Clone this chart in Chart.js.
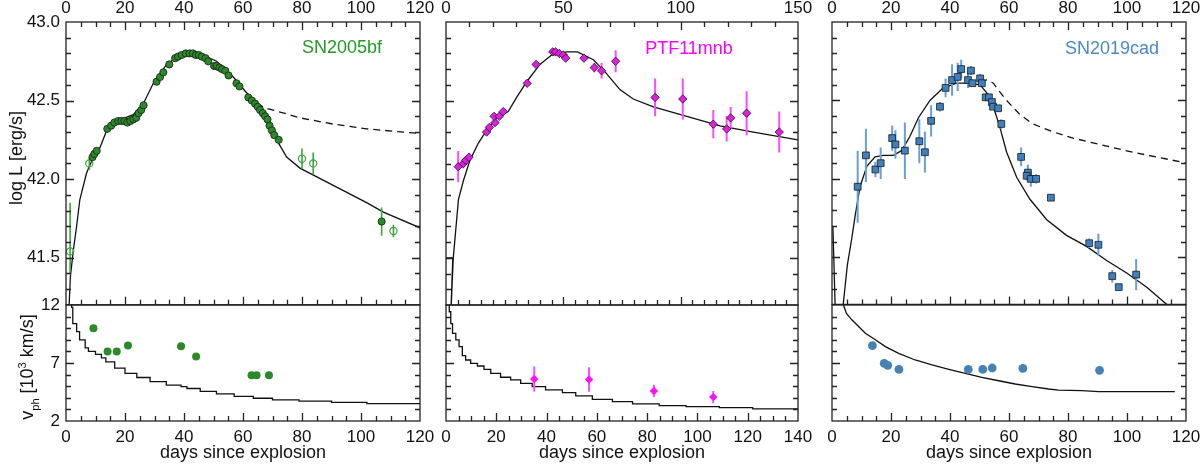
<!DOCTYPE html>
<html>
<head>
<meta charset="utf-8">
<script src="https://cdn.jsdelivr.net/npm/chart.js@4.4.1/dist/chart.umd.min.js"></script>
<style>
html, body { margin: 0; padding: 0; background: #fff; }
#wrap { position: relative; width: 1200px; height: 466px; overflow: hidden; }
canvas { position: absolute; }
</style>
</head>
<body>
<div id="wrap">
  <canvas id="t1" width="440" height="310" style="left:0px;top:0px"></canvas>
  <canvas id="t2" width="392" height="310" style="left:426px;top:0px"></canvas>
  <canvas id="t3" width="394" height="310" style="left:812px;top:0px"></canvas>
  <canvas id="b1" width="440" height="186" style="left:0px;top:280px"></canvas>
  <canvas id="b2" width="392" height="186" style="left:426px;top:280px"></canvas>
  <canvas id="b3" width="394" height="186" style="left:812px;top:280px"></canvas>
</div>
<script>
// ---------- tick labels
const ticksX120 = [0, 20, 40, 60, 80, 100, 120];
const ticksX150 = [0, 50, 100, 150];
const ticksX140 = [0, 20, 40, 60, 80, 100, 120, 140];
const ticksLogL = [41.5, 42.0, 42.5, 43.0];
const ticksVel = [2, 7, 12];

// ---------- SN2005bf  [day, logL, err]
const sn05_full = [
  [9.0, 42.14], [9.6, 42.16], [10.4, 42.18], [14.0, 42.32], [15.3, 42.34], [16.4, 42.36],
  [17.7, 42.37], [18.8, 42.37], [19.8, 42.37], [20.8, 42.36], [21.8, 42.37], [22.8, 42.38],
  [23.8, 42.39], [24.6, 42.42], [25.5, 42.44], [26.3, 42.47], [30.7, 42.62], [31.9, 42.65],
  [33.0, 42.68], [35.0, 42.73], [37.0, 42.77], [38.0, 42.78], [39.2, 42.79], [40.6, 42.80],
  [41.9, 42.80], [43.0, 42.80], [44.0, 42.79], [45.0, 42.79], [46.0, 42.78], [47.3, 42.77],
  [48.2, 42.75], [50.2, 42.72], [51.0, 42.72], [52.0, 42.71], [52.9, 42.70], [54.0, 42.69],
  [55.1, 42.66], [57.8, 42.61], [58.8, 42.59], [61.8, 42.52], [63.0, 42.50], [64.1, 42.48],
  [65.0, 42.46], [65.8, 42.44], [66.7, 42.42], [67.5, 42.40], [68.3, 42.38], [69.0, 42.34],
  [69.8, 42.31], [70.6, 42.28], [72.1, 42.25], [107.0, 41.73, 0.09]
];
// [day, logL, errLow, errHigh]
const sn05_open = [[1.4, 41.54, 0.15, 0.31], [7.9, 42.10, 0.04], [80.0, 42.13, 0.065], [83.8, 42.10, 0.07], [111.0, 41.67, 0.04]];
const sn05_model = [
  [0.7, 41.05], [1.5, 41.38], [2.5, 41.55], [3.6, 41.70], [4.7, 41.87], [7.0, 42.04], [9.3, 42.14],
  [11.5, 42.20], [13.8, 42.31], [16.6, 42.37], [20.0, 42.39], [22.8, 42.41], [26.2, 42.48],
  [29.6, 42.61], [34.1, 42.73], [38.6, 42.79], [42.0, 42.81], [46.5, 42.79], [51.0, 42.75],
  [56.7, 42.65], [61.2, 42.55], [64.6, 42.48], [68.0, 42.38], [71.4, 42.25], [74.8, 42.14],
  [79.3, 42.07], [90.6, 41.96], [101.9, 41.85], [107.6, 41.79], [120.0, 41.69]
];
const sn05_dash = [[64.6, 42.48], [68.0, 42.45], [72.0, 42.43], [79.3, 42.39], [90.6, 42.35], [101.9, 42.32], [120.0, 42.29]];
const sn05_vel = [[9.3, 10.0], [14.1, 8.0], [17.2, 8.0], [21.0, 8.5], [39.0, 8.45], [44.1, 7.55], [62.9, 5.95], [64.6, 5.95], [68.8, 5.95]];
const sn05_vModel = [
  [1.9, 13.5], [2.3, 11.8], [3.6, 10.4], [4.6, 9.7], [6.5, 9.0], [7.6, 8.3], [10.0, 8.0], [12.0, 7.75],
  [13.5, 7.45], [16.5, 7.1], [20.0, 6.55], [24.0, 6.1], [28.5, 5.75], [34.0, 5.4], [39.0, 5.1],
  [41.0, 4.96], [45.5, 4.8], [51.0, 4.55], [57.0, 4.33], [63.5, 4.12], [70.0, 3.96], [79.0, 3.82],
  [90.0, 3.72], [102.0, 3.61], [120.0, 3.5]
];

// ---------- PTF11mnb
const ptf_L = [
  [5.2, 42.08, 0.1], [7.4, 42.10, 0.03], [8.4, 42.12], [9.8, 42.14], [17.3, 42.30], [18.5, 42.33],
  [20.9, 42.36], [20.5, 42.40], [22.7, 42.40], [24.4, 42.43], [34.6, 42.61], [38.4, 42.73],
  [45.5, 42.81], [46.7, 42.81], [48.3, 42.80], [50.0, 42.79], [51.0, 42.77], [58.8, 42.77],
  [63.2, 42.71, 0.03], [66.3, 42.69, 0.05], [72.3, 42.75, 0.07], [89.1, 42.52, 0.12],
  [100.9, 42.51, 0.13], [113.9, 42.35, 0.09], [119.6, 42.32, 0.08], [121.3, 42.39, 0.07],
  [128.1, 42.42, 0.14], [142.0, 42.30, 0.13]
];
const ptf_model = [
  [0, 41.5], [2.9, 41.5], [2.0, 41.12], [3.1, 41.5], [5.3, 41.87], [7.4, 41.99], [10.2, 42.12],
  [13.8, 42.23], [17.3, 42.31], [21.6, 42.39], [26.5, 42.43], [30.1, 42.52], [34.4, 42.62],
  [40.0, 42.73], [45.0, 42.79], [51.4, 42.81], [56.0, 42.81], [62.8, 42.76], [68.5, 42.67],
  [74.1, 42.57], [79.8, 42.51], [88.4, 42.46], [102.6, 42.40], [116.8, 42.34], [131.0, 42.30], [150.0, 42.25]
];
const ptf_vel = [[35.1, 5.62, 1.07], [56.9, 5.58, 1.05], [82.7, 4.59, 0.53], [106.3, 4.06, 0.53]];
const ptf_vModel = [
  [1.3, 12.5], [1.9, 11.42], [2.6, 10.4], [3.9, 9.56], [5.2, 9.0], [6.5, 8.41], [7.8, 7.63],
  [9.8, 7.26], [12.5, 6.97], [15.1, 6.74], [17.8, 6.45], [21.7, 6.1], [25.7, 5.77], [29.7, 5.54],
  [34.3, 5.25], [39.6, 4.96], [46.3, 4.68], [51.6, 4.45], [58.2, 4.16], [66.2, 3.87], [74.2, 3.67],
  [84.8, 3.47], [95.5, 3.33], [108.7, 3.24], [122.0, 3.16], [140.0, 3.04]
];

// ---------- SN2019cad
const sn19_L = [
  [8.7, 41.95, 0.23], [11.5, 42.15, 0.17], [14.7, 42.06, 0.05], [16.5, 42.10, 0.1], [20.4, 42.26, 0.08],
  [21.5, 42.22, 0.09], [24.7, 42.18, 0.18], [29.6, 42.24, 0.14], [31.5, 42.17, 0.13], [33.6, 42.37, 0.1],
  [36.6, 42.46, 0.03], [38.5, 42.58, 0.06], [40.7, 42.63, 0.1], [42.6, 42.65, 0.09], [43.8, 42.70, 0.06],
  [46.1, 42.63, 0.05], [47.1, 42.69, 0.03], [47.6, 42.61, 0.02], [50.2, 42.64, 0.03], [50.8, 42.61, 0.02],
  [52.1, 42.52, 0.02], [53.2, 42.52, 0.02], [54.2, 42.49, 0.02], [54.6, 42.46, 0.02], [56.3, 42.45, 0.02],
  [57.4, 42.35, 0.03], [64.1, 42.14, 0.06], [66.4, 42.04, 0.05], [66.0, 42.02, 0.03], [67.4, 42.00, 0.05],
  [69.2, 42.00, 0.03], [74.2, 41.88, 0.02], [87.2, 41.59, 0.03], [90.3, 41.58, 0.07], [95.0, 41.38, 0.04],
  [97.2, 41.31, 0.02], [103.1, 41.39, 0.1]
];
const sn19_model = [
  [0.3, 41.7], [1.2, 41.1], [3.0, 40.9], [3.8, 41.2], [5.2, 41.45], [6.7, 41.62], [7.8, 41.76],
  [9.5, 41.95], [11.8, 42.08], [14.6, 42.14], [17.4, 42.15], [20.8, 42.15], [23.6, 42.18],
  [26.4, 42.27], [29.3, 42.39], [33.2, 42.50], [37.7, 42.58], [42.3, 42.61], [46.8, 42.61],
  [50.2, 42.60], [52.4, 42.55], [54.7, 42.46], [56.9, 42.33], [59.2, 42.17], [62.6, 42.01],
  [67.1, 41.87], [72.8, 41.74], [79.5, 41.64], [86.3, 41.57], [93.1, 41.48], [99.9, 41.40],
  [106.7, 41.31], [113.5, 41.2], [116.0, 41.15]
];
const sn19_dash = [
  [50.2, 42.62], [52.4, 42.63], [54.7, 42.61], [55.8, 42.58], [59.2, 42.50], [63.7, 42.41],
  [68.1, 42.35], [74.9, 42.30], [81.7, 42.26], [90.7, 42.22], [102.0, 42.17], [117.8, 42.11], [120.0, 42.10]
];
const sn19_vel = [[13.7, 8.49], [17.7, 6.97], [18.9, 6.80], [22.7, 6.45], [46.2, 6.45], [51.1, 6.45], [54.3, 6.57], [64.7, 6.54], [90.7, 6.37]];
const sn19_vModel = [
  [3.7, 12.6], [3.9, 12.0], [4.9, 11.28], [6.8, 10.7], [9.1, 10.13], [11.3, 9.56], [14.7, 9.0],
  [18.1, 8.41], [22.6, 7.83], [28.2, 7.26], [33.9, 6.83], [39.6, 6.45], [45.2, 6.1], [50.8, 5.77],
  [56.5, 5.47], [62.1, 5.19], [67.8, 4.96], [73.4, 4.76], [76.8, 4.67], [84.7, 4.62], [90.4, 4.53], [116.2, 4.53]
];

// ---------- colours
const GREEN = '#2a8a2a', GREEN_L = '#3aa63a';
const MAG = '#e21ce2', MAG_L = '#ff4cff';
const BLUE = '#3f80bf', BLUE_L = '#6a9fd3';
const EDGE = '#1a1a1a';

Chart.defaults.font.family = '"Liberation Sans", Arial, Helvetica, sans-serif';
Chart.defaults.font.size = 17;
Chart.defaults.color = '#111';

// frame with inward ticks, panel name and rotated axis title (one per chart)
function idlFrame(o) {
  return {
    id: 'idlFrame',
    afterDraw(chart) {
      const ctx = chart.ctx, a = chart.chartArea;
      const xs = chart.scales.x, ys = chart.scales.y;
      ctx.save();
      ctx.strokeStyle = '#222';
      ctx.lineWidth = 1.3;
      ctx.strokeRect(a.left, a.top, a.right - a.left, a.bottom - a.top);
      ctx.beginPath();
      o.xEdges.forEach(e => {
        const n = Math.round((xs.max - xs.min) / e.minor);
        for (let i = 1; i < n; i++) {
          const v = xs.min + i * e.minor;
          const px = Math.round(xs.getPixelForValue(v)) + 0.5;
          const len = Math.abs(v / o.xMajor - Math.round(v / o.xMajor)) < 1e-6 ? 8 : 5;
          const y0 = e.edge === 'top' ? a.top : a.bottom;
          ctx.moveTo(px, y0);
          ctx.lineTo(px, y0 + (e.edge === 'top' ? len : -len));
        }
      });
      const n = Math.round((ys.max - ys.min) / o.yMinor);
      for (let i = 1; i < n; i++) {
        const v = ys.min + i * o.yMinor;
        const py = Math.round(ys.getPixelForValue(v)) + 0.5;
        const len = o.yMajor.some(m => Math.abs(m - v) < 1e-6) ? 8 : 5;
        ctx.moveTo(a.left, py); ctx.lineTo(a.left + len, py);
        ctx.moveTo(a.right, py); ctx.lineTo(a.right - len, py);
      }
      ctx.stroke();
      if (o.name) {
        ctx.font = '18px ' + Chart.defaults.font.family;
        ctx.fillStyle = o.name.color;
        ctx.textAlign = 'center';
        ctx.textBaseline = 'middle';
        ctx.fillText(o.name.text, o.name.x, o.name.y);
      }
      if (o.ytitle) drawRotated(ctx, o.ytitle.parts, o.ytitle.x, o.ytitle.y, 18);
      ctx.restore();
    }
  };
}

function drawRotated(ctx, parts, cx, cy, size) {
  const fam = Chart.defaults.font.family;
  const fontOf = p => (p.sub || p.sup ? size * 0.62 : size) + 'px ' + fam;
  ctx.save();
  ctx.translate(cx, cy);
  ctx.rotate(-Math.PI / 2);
  let total = 0;
  parts.forEach(p => { ctx.font = fontOf(p); total += ctx.measureText(p.t).width; });
  let x = -total / 2;
  ctx.fillStyle = '#111';
  ctx.textAlign = 'left';
  ctx.textBaseline = 'alphabetic';
  parts.forEach(p => {
    ctx.font = fontOf(p);
    const dy = p.sub ? size * 0.28 : p.sup ? -size * 0.42 : 0;
    ctx.fillText(p.t, x, size * 0.36 + dy);
    x += ctx.measureText(p.t).width;
  });
  ctx.restore();
}

function axisX(pos, min, max, ticks, title) {
  return {
    type: 'linear', position: pos, min: min, max: max,
    grid: { display: false, drawTicks: false },
    border: { display: false },
    ticks: { padding: pos === 'top' ? 3 : 6, maxRotation: 0, autoSkip: false },
    afterBuildTicks: s => { s.ticks = ticks.map(v => ({ value: v })); },
    afterFit: s => { s.height = pos === 'top' ? 22 : 45; s.paddingLeft = 0; s.paddingRight = 0; },
    title: title ? { display: true, text: title, font: { size: 18 }, padding: { top: 0, bottom: 2 } } : { display: false }
  };
}

function axisY(min, max, ticks, show, digits) {
  return {
    type: 'linear', position: 'left', min: min, max: max, display: show,
    grid: { display: false, drawTicks: false },
    border: { display: false },
    ticks: { padding: 6, autoSkip: false, callback: v => v.toFixed(digits) },
    afterBuildTicks: s => { s.ticks = ticks.map(v => ({ value: v })); },
    afterFit: s => { s.width = show ? 66 : 0; s.paddingTop = 0; s.paddingBottom = 0; }
  };
}

function pts(rows, style) {
  return Object.assign({
    type: 'scatter', order: 1,
    data: rows.map(r => ({ x: r[0], y: r[1] }))
  }, style);
}

function errs(rows, color, width) {
  const data = [];
  rows.filter(r => r.length > 2).forEach(r => {
    const lo = r[2], hi = r.length > 3 ? r[3] : r[2];
    data.push({ x: r[0], y: r[1] - lo }, { x: r[0], y: r[1] + hi }, { x: r[0], y: null });
  });
  return { type: 'line', order: 2, data: data, borderColor: color, borderWidth: width, pointRadius: 0, spanGaps: false };
}

function curve(rows, extra) {
  return Object.assign({
    type: 'line', order: 3,
    data: rows.map(r => ({ x: r[0], y: r[1] })),
    borderColor: '#111', borderWidth: 1.3, pointRadius: 0, tension: 0
  }, extra || {});
}

function panel(id, datasets, scales, pad, frame) {
  new Chart(document.getElementById(id), {
    type: 'scatter',
    data: { datasets: datasets },
    options: {
      responsive: false, animation: false, events: [],
      layout: { padding: pad },
      scales: scales,
      plugins: { legend: { display: false }, tooltip: { enabled: false } }
    },
    plugins: [idlFrame(frame)]
  });
}

const padTop1 = { left: 0, right: 20, top: 0, bottom: 5 };
const padBot1 = { left: 0, right: 20, top: 25, bottom: 0 };
const padTop = { left: 20, right: 20, top: 0, bottom: 5 };
const padBot = { left: 20, right: 20, top: 25, bottom: 0 };
const frameTop = (maj, minTop, minBot, name, ytitle) => ({
  xMajor: maj, xEdges: [{ edge: 'top', minor: minTop }, { edge: 'bottom', minor: minBot }],
  yMajor: ticksLogL, yMinor: 0.1, name: name, ytitle: ytitle
});
const frameBot = (ytitle) => ({
  xMajor: 20, xEdges: [{ edge: 'bottom', minor: 5 }], yMajor: ticksVel, yMinor: 1, ytitle: ytitle
});

const ptsFilled = (fill) => ({ pointStyle: 'circle', pointRadius: 3.6, pointBackgroundColor: fill, pointBorderColor: EDGE, pointBorderWidth: 0.8 });

// ---------- SN2005bf
panel('t1', [
  pts(sn05_full, ptsFilled(GREEN)),
  pts(sn05_open, { pointStyle: 'circle', pointRadius: 3.6, pointBackgroundColor: 'rgba(255,255,255,0)', pointBorderColor: GREEN_L, pointBorderWidth: 1.2 }),
  errs(sn05_open.concat(sn05_full), GREEN_L, 1.6),
  curve(sn05_model),
  curve(sn05_dash, { borderDash: [7, 5] })
], { x: axisX('top', 0, 120, ticksX120), y: axisY(41.2, 43.0, ticksLogL, true, 1) }, padTop1,
  frameTop(20, 5, 5, { text: 'SN2005bf', color: '#239a23', x: 342, y: 48 },
    { parts: [{ t: 'log L [erg/s]' }], x: 16, y: 158 }));

panel('b1', [
  pts(sn05_vel, { pointStyle: 'circle', pointRadius: 4, pointBackgroundColor: GREEN, pointBorderWidth: 0 }),
  curve(sn05_vModel, { stepped: 'after' })
], { x: axisX('bottom', 0, 120, ticksX120, 'days since explosion'), y: axisY(2, 12, ticksVel, true, 0) }, padBot1,
  frameBot({ parts: [{ t: 'v' }, { t: 'ph', sub: true }, { t: ' [10' }, { t: '3', sup: true }, { t: ' km/s]' }], x: 27, y: 87 }));

// ---------- PTF11mnb
panel('t2', [
  pts(ptf_L, { pointStyle: 'rectRot', pointRadius: 4.2, pointBackgroundColor: MAG, pointBorderColor: EDGE, pointBorderWidth: 0.8 }),
  errs(ptf_L, MAG_L, 2),
  curve(ptf_model)
], { x: axisX('top', 0, 150, ticksX150), y: axisY(41.2, 43.0, ticksLogL, false, 1) }, padTop,
  frameTop(50, 10, 5, { text: 'PTF11mnb', color: '#ff00ff', x: 263, y: 49 }));

panel('b2', [
  pts(ptf_vel, { pointStyle: 'rectRot', pointRadius: 4.2, pointBackgroundColor: '#ff10ff', pointBorderWidth: 0 }),
  errs(ptf_vel, MAG_L, 2),
  curve(ptf_vModel, { stepped: 'after' })
], { x: axisX('bottom', 0, 140, ticksX140, 'days since explosion'), y: axisY(2, 12, ticksVel, false, 0) }, padBot, frameBot());

// ---------- SN2019cad
panel('t3', [
  pts(sn19_L, { pointStyle: 'rect', pointRadius: 4.8, pointBackgroundColor: BLUE, pointBorderColor: EDGE, pointBorderWidth: 0.8 }),
  errs(sn19_L, BLUE_L, 2),
  curve(sn19_model),
  curve(sn19_dash, { borderDash: [7, 5] })
], { x: axisX('top', 0, 120, ticksX120), y: axisY(41.2, 43.0, ticksLogL, false, 1) }, padTop,
  frameTop(20, 5, 5, { text: 'SN2019cad', color: '#4a89c4', x: 300, y: 49 }));

panel('b3', [
  pts(sn19_vel, { pointStyle: 'circle', pointRadius: 4.4, pointBackgroundColor: '#4682b4', pointBorderWidth: 0 }),
  curve(sn19_vModel)
], { x: axisX('bottom', 0, 120, ticksX120, 'days since explosion'), y: axisY(2, 12, ticksVel, false, 0) }, padBot, frameBot());
</script>
</body>
</html>
